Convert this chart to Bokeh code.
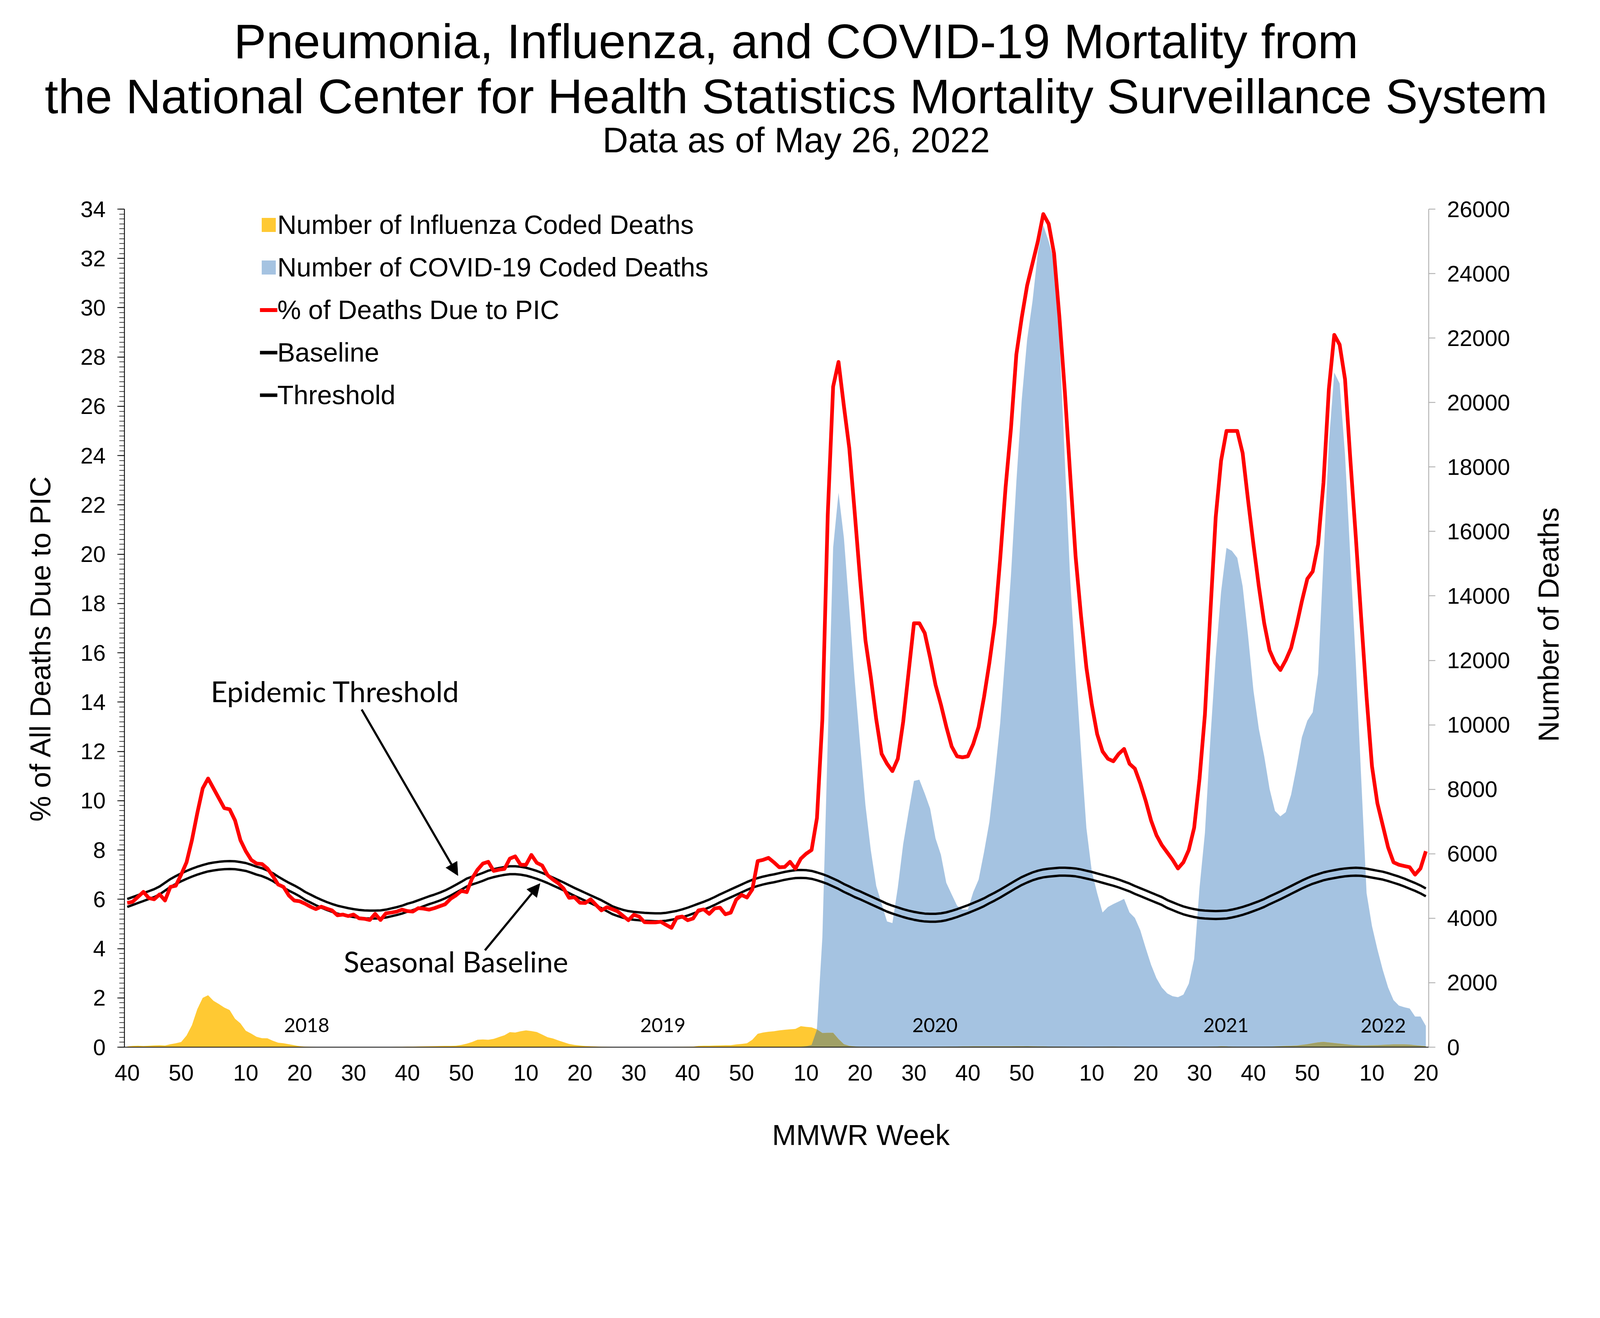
import numpy as np
from bokeh.plotting import figure
from bokeh.models import (Range1d, LinearAxis, FixedTicker, Legend, LegendItem,
                          Label, Arrow, NormalHead, Title)
from bokeh.core.properties import value
from bokeh.embed import file_html
from bokeh.resources import INLINE

# ---------------- data ----------------
season_years = [2017, 2018, 2019, 2020, 2021, 2022]
weeks_in_year = [52, 52, 52, 53, 52, 52]
first_week = 40
last_week = 20

pct_pic = [
    5.85, 5.9, 6.1, 6.3, 6.05, 6.0, 6.2, 5.95, 6.5, 6.55,
    7.0, 7.5, 8.4, 9.5, 10.5, 10.9, 10.5, 10.1, 9.7, 9.65,
    9.2, 8.4, 7.95, 7.6, 7.45, 7.43, 7.25, 6.95, 6.6, 6.5,
    6.15, 5.95, 5.92, 5.82, 5.7, 5.6, 5.7, 5.62, 5.55, 5.35,
    5.38, 5.32, 5.38, 5.23, 5.21, 5.16, 5.41, 5.16, 5.43, 5.46,
    5.5, 5.58, 5.52, 5.5, 5.64, 5.62, 5.58, 5.64, 5.72, 5.8,
    6.02, 6.16, 6.34, 6.29, 6.85, 7.2, 7.45, 7.52, 7.15, 7.2,
    7.23, 7.65, 7.74, 7.40, 7.40, 7.8, 7.48, 7.37, 6.98, 6.8,
    6.65, 6.43, 6.06, 6.08, 5.86, 5.85, 6.0, 5.77, 5.55, 5.68,
    5.6, 5.51, 5.33, 5.15, 5.37, 5.30, 5.07, 5.06, 5.06, 5.09,
    4.96, 4.84, 5.26, 5.30, 5.15, 5.22, 5.55, 5.59, 5.41, 5.63,
    5.66, 5.39, 5.46, 5.98, 6.18, 6.07, 6.40, 7.55, 7.6, 7.68,
    7.50, 7.30, 7.31, 7.52, 7.24, 7.65, 7.85, 8.0, 9.3, 13.3,
    21.6, 26.8, 27.8, 26.0, 24.3, 21.7, 19.0, 16.5, 15.0, 13.3,
    11.9, 11.5, 11.2, 11.7, 13.2, 15.2, 17.2, 17.2, 16.8, 15.8,
    14.7, 13.9, 13.0, 12.2, 11.8, 11.76, 11.8, 12.3, 13.0, 14.2,
    15.6, 17.2, 19.8, 22.7, 25.1, 28.1, 29.6, 30.9, 31.8, 32.7,
    33.8, 33.4, 32.2, 29.6, 26.6, 23.2, 19.9, 17.5, 15.4, 13.9,
    12.7, 12.0, 11.7, 11.6, 11.9, 12.1, 11.5, 11.3, 10.7, 10.0,
    9.2, 8.6, 8.2, 7.9, 7.6, 7.25, 7.5, 8.0, 8.9, 10.9,
    13.5, 17.6, 21.5, 23.8, 25.0, 25.0, 25.0, 24.1, 22.2, 20.4,
    18.7, 17.2, 16.1, 15.6, 15.3, 15.7, 16.2, 17.1, 18.1, 19.0,
    19.3, 20.4, 22.9, 26.7, 28.9, 28.5, 27.1, 23.8, 20.7, 17.4,
    14.2, 11.4, 9.9, 9.0, 8.1, 7.5, 7.4, 7.35, 7.3, 7.0,
    7.25, 7.95,
]

baseline = [
    5.69, 5.77, 5.85, 5.93, 6.01, 6.09, 6.2, 6.35, 6.5, 6.62,
    6.73, 6.83, 6.92, 7.0, 7.07, 7.13, 7.17, 7.2, 7.22, 7.23,
    7.22, 7.19, 7.15, 7.08, 7.0, 6.94, 6.85, 6.74, 6.6, 6.47,
    6.35, 6.24, 6.12, 5.98, 5.87, 5.76, 5.66, 5.57, 5.49, 5.42,
    5.37, 5.32, 5.28, 5.25, 5.23, 5.22, 5.22, 5.23, 5.26, 5.31,
    5.36, 5.42, 5.5, 5.56, 5.64, 5.72, 5.8, 5.87, 5.95, 6.04,
    6.15, 6.27, 6.39, 6.52, 6.6, 6.67, 6.75, 6.84, 6.9, 6.95,
    6.99, 7.02, 7.02, 7.0, 6.96, 6.9, 6.83, 6.75, 6.66, 6.56,
    6.46, 6.36, 6.25, 6.14, 6.04, 5.94, 5.84, 5.74, 5.64, 5.52,
    5.4, 5.32, 5.25, 5.2, 5.17, 5.15, 5.13, 5.12, 5.11, 5.11,
    5.13, 5.17, 5.21, 5.27, 5.34, 5.42, 5.5, 5.58, 5.67, 5.77,
    5.88, 5.98, 6.08, 6.18, 6.28, 6.38, 6.47, 6.54, 6.6, 6.65,
    6.69, 6.74, 6.79, 6.83, 6.86, 6.87, 6.86, 6.83, 6.77, 6.7,
    6.62, 6.52, 6.42, 6.3, 6.2, 6.09, 6.0, 5.9, 5.8, 5.7,
    5.6, 5.5, 5.42, 5.35, 5.28, 5.22, 5.17, 5.13, 5.1, 5.09,
    5.09, 5.11, 5.15, 5.21, 5.28, 5.36, 5.44, 5.53, 5.62, 5.72,
    5.84, 5.95, 6.07, 6.2, 6.33, 6.46, 6.58, 6.68, 6.77, 6.84,
    6.89, 6.92, 6.94, 6.96, 6.96, 6.95, 6.93, 6.89, 6.84, 6.79,
    6.73, 6.67, 6.61, 6.55, 6.48, 6.4, 6.32, 6.22, 6.13, 6.04,
    5.95, 5.86, 5.77, 5.65, 5.56, 5.47, 5.39, 5.33, 5.28, 5.24,
    5.22, 5.21, 5.2, 5.21, 5.22, 5.26, 5.31, 5.37, 5.44, 5.52,
    5.6, 5.69, 5.8, 5.9, 6.0, 6.11, 6.22, 6.33, 6.44, 6.54,
    6.63, 6.7, 6.77, 6.82, 6.86, 6.9, 6.93, 6.95, 6.96, 6.95,
    6.92, 6.88, 6.84, 6.8, 6.74, 6.67, 6.6, 6.52, 6.43, 6.34,
    6.24, 6.12,
]

threshold = [
    6.01, 6.09, 6.17, 6.25, 6.33, 6.41, 6.52, 6.67, 6.82, 6.94,
    7.05, 7.15, 7.24, 7.32, 7.39, 7.45, 7.49, 7.52, 7.54, 7.55,
    7.54, 7.51, 7.47, 7.40, 7.32, 7.26, 7.17, 7.06, 6.92, 6.79,
    6.67, 6.56, 6.44, 6.30, 6.19, 6.08, 5.98, 5.89, 5.81, 5.74,
    5.69, 5.64, 5.60, 5.57, 5.55, 5.54, 5.54, 5.55, 5.58, 5.63,
    5.68, 5.74, 5.82, 5.88, 5.96, 6.04, 6.12, 6.19, 6.27, 6.36,
    6.47, 6.59, 6.71, 6.84, 6.92, 6.99, 7.07, 7.16, 7.22, 7.27,
    7.31, 7.34, 7.34, 7.32, 7.28, 7.22, 7.15, 7.07, 6.98, 6.88,
    6.78, 6.68, 6.57, 6.46, 6.36, 6.26, 6.16, 6.06, 5.96, 5.84,
    5.72, 5.64, 5.57, 5.52, 5.49, 5.47, 5.45, 5.44, 5.43, 5.43,
    5.45, 5.49, 5.53, 5.59, 5.66, 5.74, 5.82, 5.90, 5.99, 6.09,
    6.20, 6.30, 6.40, 6.50, 6.60, 6.70, 6.79, 6.86, 6.92, 6.97,
    7.01, 7.06, 7.11, 7.15, 7.18, 7.19, 7.18, 7.15, 7.09, 7.02,
    6.94, 6.84, 6.74, 6.62, 6.52, 6.41, 6.32, 6.22, 6.12, 6.02,
    5.92, 5.82, 5.74, 5.67, 5.60, 5.54, 5.49, 5.45, 5.42, 5.41,
    5.41, 5.43, 5.47, 5.53, 5.60, 5.68, 5.76, 5.85, 5.94, 6.04,
    6.16, 6.27, 6.39, 6.52, 6.65, 6.78, 6.90, 7.00, 7.09, 7.16,
    7.21, 7.24, 7.26, 7.28, 7.28, 7.27, 7.25, 7.21, 7.16, 7.11,
    7.05, 6.99, 6.93, 6.87, 6.80, 6.72, 6.64, 6.54, 6.45, 6.36,
    6.27, 6.18, 6.09, 5.97, 5.88, 5.79, 5.71, 5.65, 5.60, 5.56,
    5.54, 5.53, 5.52, 5.53, 5.54, 5.58, 5.63, 5.69, 5.76, 5.84,
    5.92, 6.01, 6.12, 6.22, 6.32, 6.43, 6.54, 6.65, 6.76, 6.86,
    6.95, 7.02, 7.09, 7.14, 7.18, 7.22, 7.25, 7.27, 7.28, 7.27,
    7.24, 7.20, 7.16, 7.12, 7.06, 6.99, 6.92, 6.84, 6.75, 6.66,
    6.56, 6.44,
]

flu_deaths = [
    20, 40, 45, 35, 45, 55, 60, 50, 90, 120,
    160, 360, 680, 1180, 1530, 1610, 1440, 1340, 1230, 1150,
    880, 740, 510, 420, 320, 280, 275, 200, 140, 120,
    90, 60, 30, 15, 8, 5, 3, 3, 3, 3,
    3, 3, 3, 3, 3, 3, 3, 3, 4, 5,
    8, 10, 15, 15, 20, 25, 28, 30, 35, 40,
    40, 45, 70, 110, 160, 230, 240, 230, 256, 315,
    370, 465, 455, 495, 520, 500, 470, 390, 310, 270,
    210, 155, 100, 70, 50, 35, 28, 20, 12, 8,
    5, 5, 5, 5, 5, 5, 5, 5, 5, 5,
    5, 5, 8, 10, 12, 15, 40, 45, 45, 50,
    55, 60, 60, 85, 100, 120, 230, 415, 455, 480,
    495, 520, 540, 555, 565, 650, 630, 615, 550, 440,
    445, 445, 250, 90, 40, 20, 10, 8, 6, 5,
    5, 5, 5, 5, 5, 5, 5, 5, 5, 5,
    8, 10, 12, 15, 18, 20, 22, 25, 25, 25,
    25, 25, 25, 25, 25, 28, 28, 30, 25, 22,
    20, 18, 15, 15, 12, 10, 8, 8, 6, 6,
    8, 8, 12, 15, 10, 8, 6, 5, 5, 5,
    5, 5, 5, 5, 5, 5, 5, 5, 5, 5,
    8, 10, 15, 25, 20, 12, 10, 8, 8, 8,
    10, 12, 15, 20, 30, 37, 42, 48, 70, 92,
    120, 147, 165, 145, 128, 110, 90, 73, 60, 55,
    55, 58, 62, 70, 78, 84, 84, 84, 78, 62,
    45, 26,
]

covid_deaths = [0] * 125 + [
    10, 30, 70, 600, 3400,
    9500, 15500, 17200, 15800, 13600, 11400, 9400, 7500, 6100, 5000,
    4450, 3900, 3850, 4950, 6300, 7300, 8260, 8300, 7870, 7400,
    6480, 5970, 5100, 4740, 4390, 4270, 4270, 4810, 5200, 6050,
    6990, 8430, 10050, 12260, 14640, 17530, 20080, 21950, 23140, 24670,
    25500, 25000, 24400, 21950, 18200, 14500, 11750, 9200, 6800, 5460,
    4780, 4180, 4350, 4440, 4520, 4600, 4180, 4010, 3630, 3080,
    2560, 2140, 1850, 1670, 1580, 1550, 1630, 1970, 2740, 4950,
    6650, 9540, 12090, 14130, 15490, 15400, 15180, 14300, 12770, 11070,
    9880, 9030, 8010, 7330, 7160, 7290, 7840, 8690, 9620, 10130,
    10390, 11580, 15150, 18720, 20930, 20590, 18380, 15150, 11920, 8350,
    4780, 3760, 3040, 2400, 1850, 1460, 1290, 1240, 1200, 950,
    950, 660,
]

year_labels = ["2018", "2019", "2020", "2021", "2022"]

# MMWR week sequence (2017 wk40 ... 2022 wk20)
mmwr_week = []
for yr, n in zip(season_years, weeks_in_year):
    start = first_week if yr == season_years[0] else 1
    end = last_week if yr == season_years[-1] else n
    mmwr_week.extend(range(start, end + 1))
xs = list(range(len(mmwr_week)))
tick_pos = [i for i, w in enumerate(mmwr_week) if w % 10 == 0]
tick_lab = {i: str(mmwr_week[i]) for i in tick_pos}

flu_arr = np.array(flu_deaths, dtype=float)
cov_arr = np.array(covid_deaths, dtype=float)
overlap = np.minimum(flu_arr, cov_arr)

# ---------------- figure ----------------
FONT = "Liberation Sans"
ANN = "Lato"
NB = "\u00a0"
p = figure(width=4072, height=3050,
           x_range=Range1d(-0.53, 241.53), y_range=Range1d(0, 34),
           output_backend="svg", toolbar_location=None,
           min_border_left=318, min_border_right=415,
           min_border_top=535, min_border_bottom=369)
p.extra_y_ranges = {"deaths": Range1d(0, 26000)}
p.xgrid.visible = False
p.ygrid.visible = False
p.outline_line_color = None
p.background_fill_color = "white"

r_cov = p.varea(x=xs, y1=0, y2=covid_deaths, y_range_name="deaths",
                fill_color="#A5C3E1")
r_flu = p.varea(x=xs, y1=0, y2=flu_deaths, y_range_name="deaths",
                fill_color="#FFC933")
p.varea(x=xs, y1=0, y2=overlap, y_range_name="deaths", fill_color="#A0A066")
p.line(xs, baseline, line_color="black", line_width=6)
p.line(xs, threshold, line_color="black", line_width=6)
p.line(xs, pct_pic, line_color="#FF0000", line_width=9.5, line_join="round")

# legend-key line samples (thicker, as in the reference key); the single
# NaN point draws nothing inside the plot
nan_y = [float("nan")]
k_pic = p.line(x=[0], y=nan_y, line_color="#FF0000", line_width=10)
k_base = p.line(x=[0], y=nan_y, line_color="black", line_width=9)
k_thr = p.line(x=[0], y=nan_y, line_color="black", line_width=9)

# left axis
ya = p.yaxis[0]
ya.ticker = FixedTicker(ticks=list(range(0, 35, 2)),
                        minor_ticks=[round(0.2 * k, 1) for k in range(171)])
ya.major_tick_out = 18
ya.major_tick_in = 0
ya.minor_tick_out = 13
ya.minor_tick_in = 0
ya.axis_line_width = 2.2
ya.major_tick_line_width = 2
ya.minor_tick_line_width = 1.4
ya.major_label_text_font = FONT
ya.major_label_text_font_size = "58px"
ya.major_label_text_color = "black"
ya.major_label_standoff = 30
ya.axis_label = "% of All Deaths Due to PIC" + NB * 5
ya.axis_label_text_font = FONT
ya.axis_label_text_font_size = "74px"
ya.axis_label_text_font_style = "normal"
ya.axis_label_text_color = "black"
ya.axis_label_standoff = 58

# bottom axis
xa = p.xaxis[0]
xa.ticker = FixedTicker(ticks=tick_pos)
xa.major_label_overrides = tick_lab
xa.major_tick_out = 0
xa.major_tick_in = 0
xa.minor_tick_out = 0
xa.minor_tick_in = 0
xa.axis_line_width = 2.2
xa.major_label_text_font = FONT
xa.major_label_text_font_size = "58px"
xa.major_label_text_color = "black"
xa.major_label_standoff = 45
xa.axis_label = NB * 21 + "MMWR Week"
xa.axis_label_text_font = FONT
xa.axis_label_text_font_size = "74px"
xa.axis_label_text_font_style = "normal"
xa.axis_label_text_color = "black"
xa.axis_label_standoff = 95

# right axis (number of deaths)
ra = LinearAxis(y_range_name="deaths",
                ticker=FixedTicker(ticks=list(range(0, 26001, 2000))))
ra.axis_line_color = "#A6A6A6"
ra.axis_line_width = 2
ra.major_tick_line_color = "#A6A6A6"
ra.major_tick_line_width = 2
ra.major_tick_out = 17
ra.major_tick_in = 0
ra.minor_tick_out = 0
ra.minor_tick_in = 0
ra.major_label_text_font = FONT
ra.major_label_text_font_size = "58px"
ra.major_label_text_color = "black"
ra.major_label_standoff = 30
p.add_layout(ra, "right")

# right-hand title, read bottom to top, carried by a bare outer axis
label_anchor = 9470
ra2 = LinearAxis(y_range_name="deaths", ticker=FixedTicker(ticks=[label_anchor]),
                 major_label_overrides={label_anchor: "Number of Deaths"},
                 major_label_orientation=np.pi / 2)
ra2.axis_line_color = None
ra2.major_tick_line_color = None
ra2.minor_tick_line_color = None
ra2.major_tick_out = 0
ra2.minor_tick_out = 0
ra2.major_label_text_font = FONT
ra2.major_label_text_font_size = "74px"
ra2.major_label_text_color = "black"
ra2.major_label_standoff = 96
p.add_layout(ra2, "right")

# titles (stacked above the frame: spacer, subtitle, line 2, line 1)
p.add_layout(Title(text=" ", text_font_size="10px", standoff=124), "above")
p.add_layout(Title(text="Data as of May 26, 2022", align="left", offset=1224,
                   standoff=-20, text_font=FONT, text_font_size="91px",
                   text_font_style="normal", text_color="black"), "above")
p.add_layout(Title(text="the National Center for Health Statistics Mortality Surveillance System",
                   align="left", offset=-204, standoff=0, text_font=FONT,
                   text_font_size="124.5px", text_font_style="normal",
                   text_color="black"), "above")
p.add_layout(Title(text="Pneumonia, Influenza, and COVID-19 Mortality from",
                   align="left", offset=280, standoff=0, text_font=FONT,
                   text_font_size="124.5px", text_font_style="normal",
                   text_color="black"), "above")

# annotations
p.add_layout(Label(x=15.49, y=14.45, text="Epidemic Threshold",
                   text_align="left", text_baseline="alphabetic",
                   text_font=ANN, text_font_size="74px", text_color="black"))
p.add_layout(Label(x=40.15, y=3.49, text="Seasonal Baseline",
                   text_align="left", text_baseline="alphabetic",
                   text_font=ANN, text_font_size="74px", text_color="black"))
p.add_layout(Arrow(end=NormalHead(size=33, fill_color="black", line_color="black"),
                   x_start=43.5, y_start=13.70, x_end=61.37, y_end=6.96,
                   line_width=5.5, line_color="black"))
p.add_layout(Arrow(end=NormalHead(size=33, fill_color="black", line_color="black"),
                   x_start=66.38, y_start=3.93, x_end=76.6, y_end=6.64,
                   line_width=5.5, line_color="black"))

year_x = [33.3, 99.4, 149.9, 203.9, 233.1]
year_y = [0.9, 0.9, 0.9, 0.9, 0.88]
p.text(x=year_x, y=year_y, text=year_labels, text_align="center",
       text_baseline="alphabetic", text_font=value(ANN),
       text_font_size="50px", text_color="black")

# legend
items = [
    LegendItem(label="Number of Influenza Coded Deaths", renderers=[r_flu]),
    LegendItem(label="Number of COVID-19 Coded Deaths", renderers=[r_cov]),
    LegendItem(label="% of Deaths Due to PIC", renderers=[k_pic]),
    LegendItem(label="Baseline", renderers=[k_base]),
    LegendItem(label="Threshold", renderers=[k_thr]),
]
legend = Legend(items=items, location=(347, 1631), padding=0, margin=0,
                spacing=31, label_standoff=0, glyph_width=45, glyph_height=45,
                label_height=73, label_text_font=FONT,
                label_text_font_size="68px", label_text_color="black",
                border_line_alpha=0, background_fill_alpha=0)
p.add_layout(legend)

open("out.html", "w").write(file_html(p, INLINE))
